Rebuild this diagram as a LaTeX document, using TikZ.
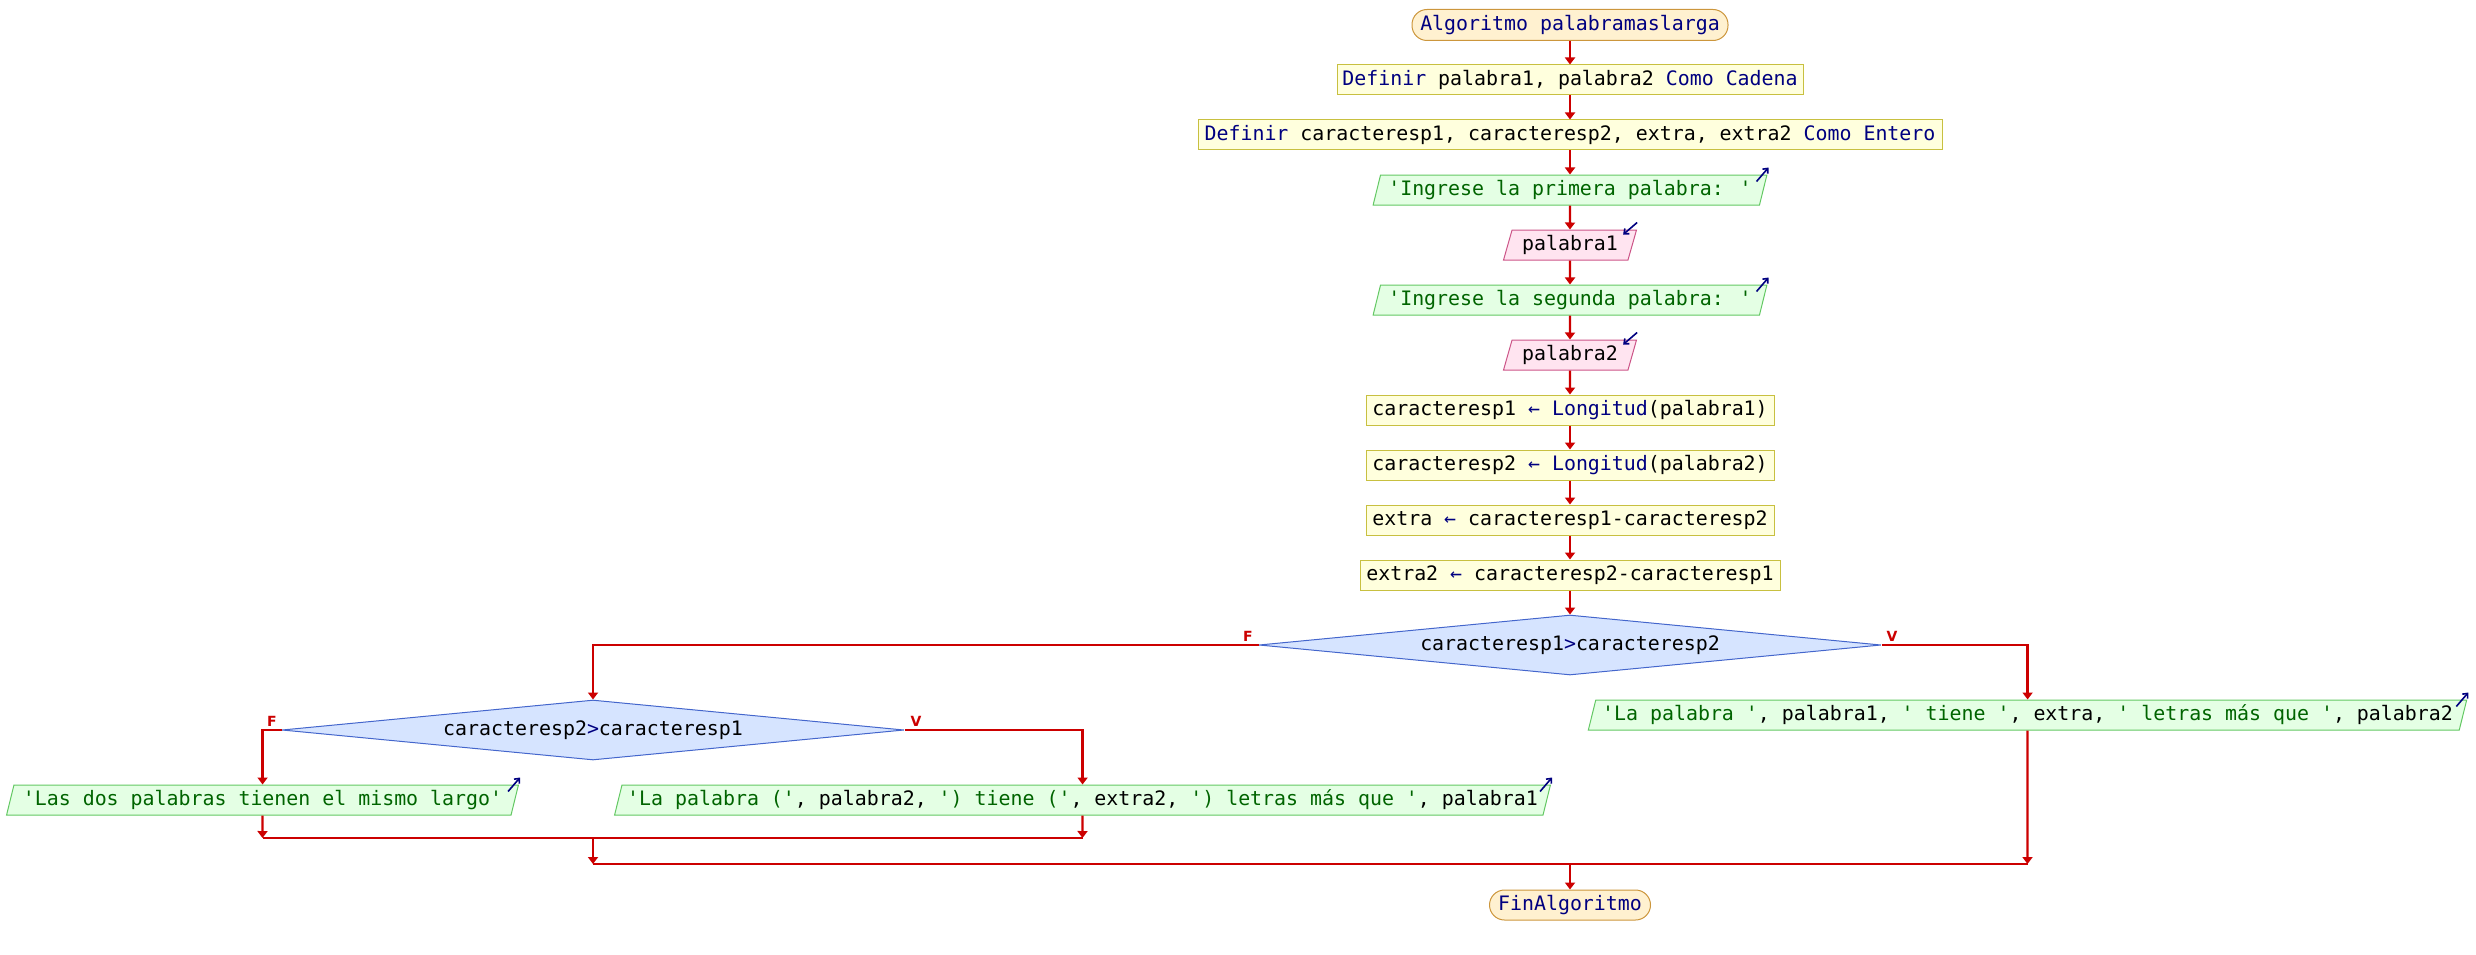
\documentclass[tikz,border=0pt]{standalone}
\usepackage{fontspec}
\newfontfamily\mono{DejaVu Sans Mono}
\newfontfamily\lab{DejaVu Sans}
\usetikzlibrary{shapes.geometric,arrows.meta}
\definecolor{navy}{RGB}{0,0,128}
\definecolor{strgreen}{RGB}{0,100,0}
\definecolor{flow}{RGB}{204,0,0}
\definecolor{termfill}{RGB}{255,241,208}
\definecolor{termdraw}{RGB}{204,150,60}
\definecolor{procfill}{RGB}{255,255,221}
\definecolor{procdraw}{RGB}{200,192,64}
\definecolor{outfill}{RGB}{228,255,228}
\definecolor{outdraw}{RGB}{100,200,100}
\definecolor{infill}{RGB}{255,228,240}
\definecolor{indraw}{RGB}{204,85,136}
\definecolor{decfill}{RGB}{214,228,255}
\definecolor{decdraw}{RGB}{68,102,204}
\newcommand\kw[1]{\textcolor{navy}{#1}}
\newcommand\str[1]{\textcolor{strgreen}{#1}}
\newcommand\q{\textquotesingle}
\begin{document}
\begin{tikzpicture}[x=1pt,y=-1pt,
  base/.style={font=\mono\fontsize{19.9}{22}\selectfont, inner sep=0pt, line width=1pt, minimum height=30pt},
  term/.style={base, rectangle, rounded corners=15pt, fill=termfill, draw=termdraw, text=navy},
  proc/.style={base, rectangle, fill=procfill, draw=procdraw},
  outp/.style={base, trapezium, trapezium left angle=70, trapezium right angle=110, trapezium stretches=true, fill=outfill, draw=outdraw},
  inp/.style={outp, fill=infill, draw=indraw},
  dec/.style={base, diamond, aspect=10.37, minimum width=622pt, minimum height=60pt, fill=decfill, draw=decdraw},
  flowline/.style={draw=flow, line width=2.2pt},
  arr/.style={flowline, -{Triangle[length=7pt,width=10pt]}},
  icon/.style={draw=navy, line width=1.6pt, -{Straight Barb[length=4pt,width=7pt]}},
  lbl/.style={font=\lab\bfseries\fontsize{14}{16}\selectfont, text=flow, inner sep=0pt}
]
\useasboundingbox (0,0) rectangle (2476,955);
% main column
\node[term, minimum width=316pt, minimum height=31pt] (start) at (1570,25) {Algoritmo palabramaslarga};
\node[proc, minimum width=466pt] (def1) at (1570,80) {\kw{Definir} palabra1, palabra2 \kw{Como Cadena}};
\node[proc, minimum width=744pt] (def2) at (1570,135) {\kw{Definir} caracteresp1, caracteresp2, extra, extra2 \kw{Como Entero}};
\node[outp, minimum width=395pt] (o1) at (1570,190) {\str{\q Ingrese la primera palabra: \q}};
\node[inp, minimum width=133pt] (i1) at (1570,245) {palabra1};
\node[outp, minimum width=395pt] (o2) at (1570,300) {\str{\q Ingrese la segunda palabra: \q}};
\node[inp, minimum width=133pt] (i2) at (1570,355) {palabra2};
\node[proc, minimum width=408pt] (a1) at (1570,410) {caracteresp1 \kw{←} \kw{Longitud}(palabra1)};
\node[proc, minimum width=408pt] (a2) at (1570,465) {caracteresp2 \kw{←} \kw{Longitud}(palabra2)};
\node[proc, minimum width=408pt] (a3) at (1570,520) {extra \kw{←} caracteresp1-caracteresp2};
\node[proc, minimum width=420pt] (a4) at (1570,575) {extra2 \kw{←} caracteresp2-caracteresp1};
\node[dec] (c1) at (1570,645) {caracteresp1\kw{>}caracteresp2};
\node[outp, minimum width=887pt] (or) at (2027.5,715) {\str{\q La palabra \q}, palabra1, \str{\q{} tiene \q}, extra, \str{\q{} letras más que \q}, palabra2};
\node[dec] (c2) at (593,730) {caracteresp2\kw{>}caracteresp1};
\node[outp, minimum width=515pt] (ol) at (262.5,800) {\str{\q Las dos palabras tienen el mismo largo\q}};
\node[outp, minimum width=947pt] (om) at (1082.5,800) {\str{\q La palabra (\q}, palabra2, \str{\q) tiene (\q}, extra2, \str{\q) letras más que \q}, palabra1};
\node[term, minimum width=161pt] (fin) at (1570,905) {FinAlgoritmo};
% labels
\node[lbl] (f1) at (1248,636) {F};
\node[lbl] (v1) at (1892,636) {V};
\node[lbl] (f2) at (272,721) {F};
\node[lbl] (v2) at (916,721) {V};
% icons
\foreach \n in {o1,o2,or,ol,om}{
  \draw[icon] ([shift={(-11,7)}]\n.top right corner) -- ++(12,-14);
}
\foreach \n in {i1,i2}{
  \draw[icon] ([shift={(0,-7)}]\n.top right corner) -- ++(-14,12);
}
% connectors
\draw[arr] (start) -- (def1);
\draw[arr] (def1) -- (def2);
\draw[arr] (def2) -- (o1);
\draw[arr] (o1) -- (i1);
\draw[arr] (i1) -- (o2);
\draw[arr] (o2) -- (i2);
\draw[arr] (i2) -- (a1);
\draw[arr] (a1) -- (a2);
\draw[arr] (a2) -- (a3);
\draw[arr] (a3) -- (a4);
\draw[arr] (a4) -- (c1);
\draw[arr] (c1.west) -| (c2.north);
\draw[arr] (c1.east) -| (or.north);
\draw[arr] (c2.west) -| (ol.north);
\draw[arr] (c2.east) -| (om.north);
\coordinate (m1l) at (262.5,838);
\coordinate (m1r) at (1082.5,838);
\coordinate (m1c) at (593,838);
\coordinate (m2l) at (593,864);
\coordinate (m2r) at (2027.5,864);
\coordinate (m2c) at (1570,864);
\draw[flowline] (m1l) -- (m1r);
\draw[flowline] (m2l) -- (m2r);
\draw[arr] (ol.south) -- (m1l);
\draw[arr] (om.south) -- (m1r);
\draw[arr] (m1c) -- (m2l);
\draw[arr] (or.south) -- (m2r);
\draw[arr] (m2c) -- (fin);
\end{tikzpicture}
\end{document}
